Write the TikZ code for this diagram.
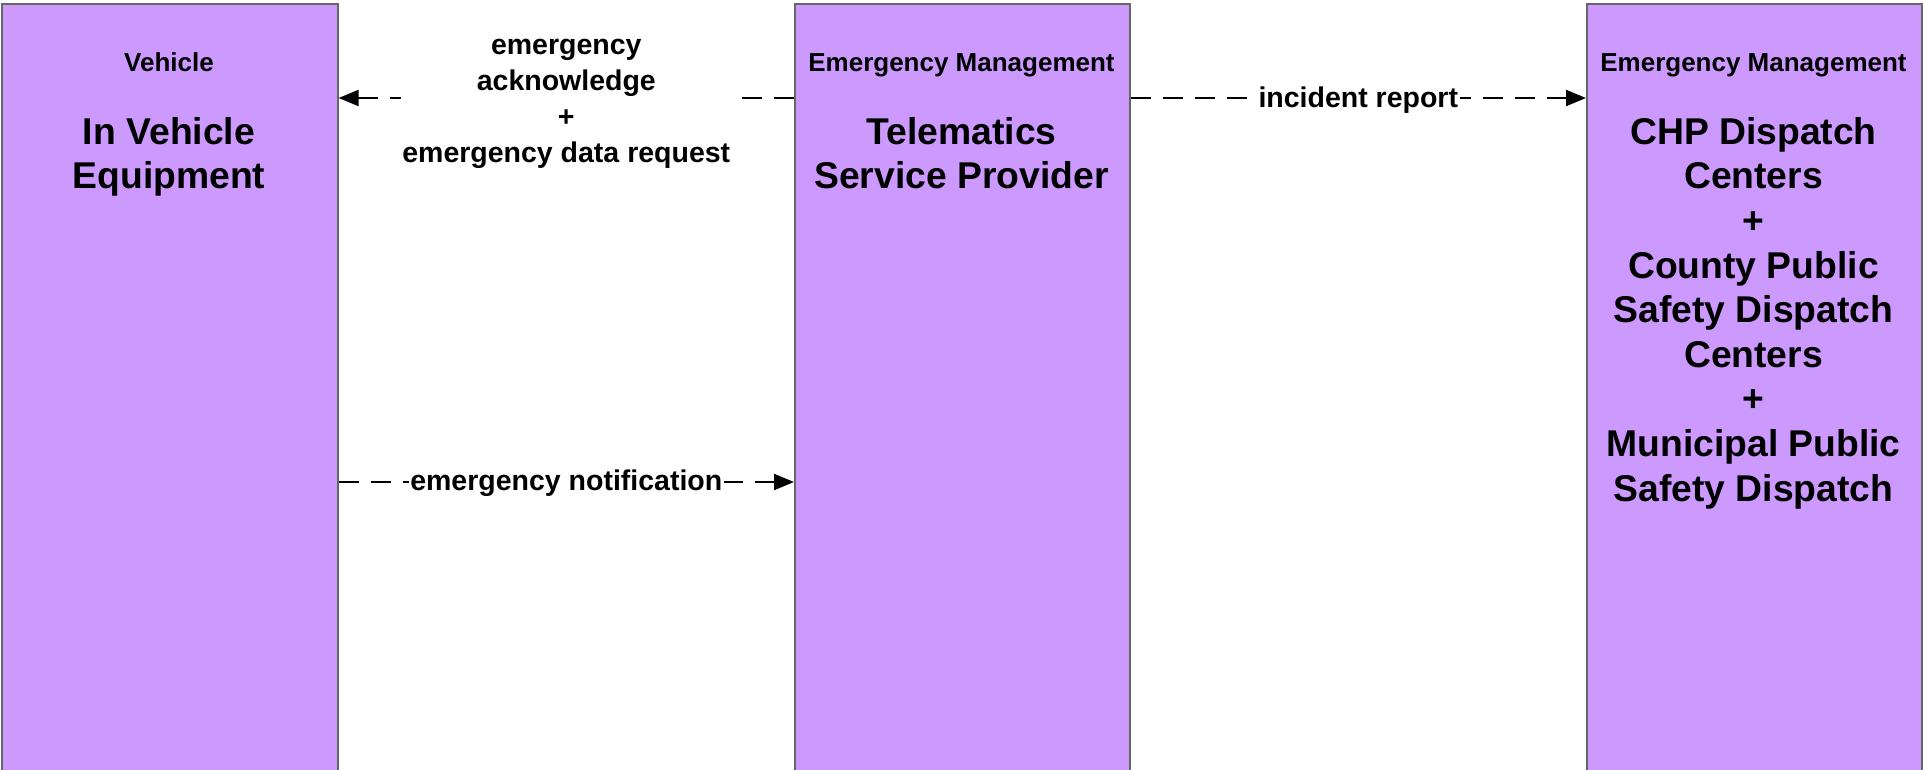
\documentclass[tikz,border=0pt]{standalone}
\usepackage{fontspec}
\setmainfont{Liberation Sans}
\usetikzlibrary{arrows.meta}
\definecolor{boxfill}{HTML}{CC99FF}
\definecolor{boxline}{HTML}{666666}
\begin{document}
\begin{tikzpicture}[x=1pt,y=-1pt,
  block/.style={draw=boxline, line width=1.6pt, fill=boxfill, anchor=north west, minimum height=820pt, inner sep=0pt},
  hdr/.style={font=\fontsize{26}{30}\selectfont\bfseries, anchor=base, inner sep=0pt},
  ttl/.style={font=\fontsize{37.3}{44.6}\selectfont\bfseries, anchor=north, align=center, inner sep=0pt},
  flow/.style={line width=2pt, dash pattern=on 20pt off 12pt, -{Triangle[length=20pt,width=16pt]}},
  lbl/.style={font=\fontsize{28.5}{35.8}\selectfont\bfseries, fill=white, inner sep=1.5pt, align=center}]
\useasboundingbox (0,0) rectangle (1923,769);
\clip (0,0) rectangle (1923,769);
\fill[white] (0,0) rectangle (1923,769);

\node[block, minimum width=336pt] (ive) at (1,3) {};
\node[block, minimum width=335pt] (tsp) at (794,3) {};
\node[block, minimum width=335pt] (chp) at (1586,3) {};

\node[hdr] (h1) at (169,71) {Vehicle};
\node[hdr] (h2) at (961.5,71) {Emergency Management};
\node[hdr] (h3) at (1753.5,71) {Emergency Management};

\node[ttl] (t1) at (169,117) {In Vehicle\\Equipment};
\node[ttl] (t2) at (961.5,117) {Telematics\\Service Provider};
\node[ttl] (t3) at (1753.5,117) {CHP Dispatch\\Centers\\+\\County Public\\Safety Dispatch\\Centers\\+\\Municipal Public\\Safety Dispatch};

\coordinate (ytop) at (0,98);
\coordinate (ybot) at (0,482);

\draw[flow] (tsp.west |- ytop) -- (ive.east |- ytop)
  node[midway, lbl, yshift=-6pt] (l1) {emergency\\acknowledge\\+\\emergency data request};
\draw[flow] (tsp.east |- ytop) -- (chp.west |- ytop)
  node[midway, lbl, yshift=-2pt] (l2) {incident report};
\draw[flow] (ive.east |- ybot) -- (tsp.west |- ybot)
  node[midway, lbl, yshift=-1pt] (l3) {emergency notification};
\end{tikzpicture}
\end{document}
